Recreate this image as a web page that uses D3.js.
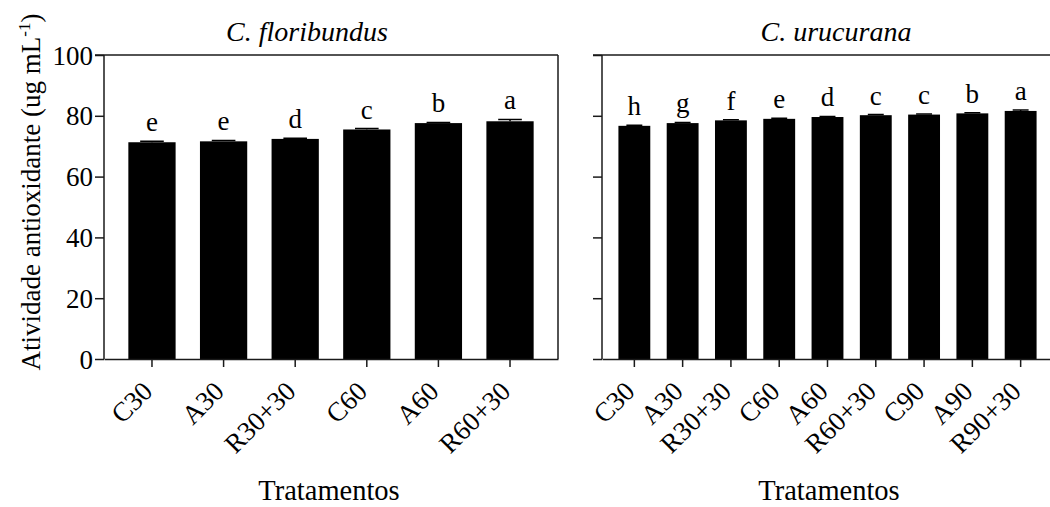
<!DOCTYPE html>
<html>
<head>
<meta charset="utf-8">
<script src="https://cdn.jsdelivr.net/npm/d3@7"></script>
<style>
  body { margin: 0; background: #fff; }
  text { font-family: "Liberation Serif", "Times New Roman", serif; fill: #000; }
</style>
</head>
<body>
<div id="chart"></div>
<script>
// size
var chart_width  = 1050;
var chart_height = 507;

// data
var flor_labels  = ["C30", "A30", "R30+30", "C60", "A60", "R60+30"];
var flor_values  = [71.3, 71.6, 72.4, 75.5, 77.6, 78.2];
var flor_errors  = [0.3, 0.3, 0.2, 0.3, 0.2, 0.6];
var flor_letters = ["e", "e", "d", "c", "b", "a"];

var uru_labels  = ["C30", "A30", "R30+30", "C60", "A60", "R60+30", "C90", "A90", "R90+30"];
var uru_values  = [76.7, 77.6, 78.5, 79.0, 79.6, 80.2, 80.4, 80.8, 81.6];
var uru_errors  = [0.2, 0.2, 0.2, 0.2, 0.2, 0.2, 0.2, 0.2, 0.3];
var uru_letters = ["h", "g", "f", "e", "d", "c", "c", "b", "a"];

var y_ticks = [0, 20, 40, 60, 80, 100];

var svg = d3.select("#chart")
    .append("svg")
    .attr("width", chart_width)
    .attr("height", chart_height);

var y = d3.scaleLinear()
    .domain([0, 100])
    .range([359, 55]);

var line_col = "#1a1a1a";

// one panel
function drawPanel(opt) {
    var x = d3.scaleBand()
        .domain(opt.labels)
        .range([opt.x0, opt.x1])
        .paddingInner(0.34)
        .paddingOuter(0.34);

    var g = svg.append("g");

    // bars
    g.selectAll("rect.bar")
        .data(opt.values)
        .enter()
        .append("rect")
        .attr("class", "bar")
        .attr("x", function(d, i){ return x(opt.labels[i]); })
        .attr("y", function(d){ return y(d); })
        .attr("width", x.bandwidth())
        .attr("height", function(d){ return y(0) - y(d); })
        .attr("fill", "#000");

    // error bars (up only)
    g.selectAll("path.err")
        .data(opt.values)
        .enter()
        .append("path")
        .attr("class", "err")
        .attr("d", function(d, i){
            var cx = x(opt.labels[i]) + x.bandwidth() / 2;
            var w = x.bandwidth() * 0.25;
            var top = y(d + opt.errors[i]);
            return "M" + cx + "," + y(d) + "V" + top + "M" + (cx - w) + "," + top + "H" + (cx + w);
        })
        .attr("stroke", "#000")
        .attr("stroke-width", 1.5)
        .attr("fill", "none");

    // letters
    g.selectAll("text.letter")
        .data(opt.letters)
        .enter()
        .append("text")
        .attr("class", "letter")
        .attr("x", function(d, i){ return x(opt.labels[i]) + x.bandwidth() / 2; })
        .attr("y", function(d, i){ return y(opt.values[i] + opt.errors[i]) - 10; })
        .attr("text-anchor", "middle")
        .style("font-size", "27px")
        .text(function(d){ return d; });

    // y axis
    var yAxis = d3.axisLeft(y).tickValues(y_ticks).tickSize(9)
        .tickFormat(opt.showY ? d3.format("d") : "");
    var ya = g.append("g")
        .attr("transform", "translate(" + opt.x0 + ",0)")
        .call(yAxis);
    ya.attr("font-family", null).attr("font-size", null);
    ya.select(".domain").attr("d", "M0," + y(0) + "V" + y(100));
    ya.selectAll("line").attr("stroke", line_col).attr("stroke-width", 1.5);
    ya.select(".domain").attr("stroke", line_col).attr("stroke-width", 1.5);
    ya.selectAll("text")
        .style("font-size", "27px")
        .attr("x", -11)
        .attr("dy", "0.34em");

    // x axis
    var xAxis = d3.axisBottom(x).tickSize(8).tickSizeOuter(0).tickFormat("");
    var xa = g.append("g")
        .attr("transform", "translate(0," + y(0) + ")")
        .call(xAxis);
    xa.select(".domain").attr("stroke", line_col).attr("stroke-width", 1.5);
    xa.selectAll("line").attr("stroke", line_col).attr("stroke-width", 1.5);

    // rotated tick labels
    g.selectAll("text.xlab")
        .data(opt.labels)
        .enter()
        .append("text")
        .attr("class", "xlab")
        .attr("text-anchor", "end")
        .attr("transform", function(d){
            var cx = x(d) + x.bandwidth() / 2;
            return "translate(" + (cx + 2) + ",393) rotate(-45)";
        })
        .style("font-size", "27px")
        .text(function(d){ return d; });

    // frame: top line, optional right line
    g.append("line")
        .attr("x1", opt.x0 - 9).attr("x2", opt.frameRight ? opt.x1 : chart_width)
        .attr("y1", y(100)).attr("y2", y(100))
        .attr("stroke", line_col).attr("stroke-width", 1.5);
    if (opt.frameRight) {
        g.append("line")
            .attr("x1", opt.x1).attr("x2", opt.x1)
            .attr("y1", y(100)).attr("y2", y(0))
            .attr("stroke", line_col).attr("stroke-width", 1.5);
    }

    // panel title
    g.append("text")
        .attr("x", opt.titleX)
        .attr("y", 41)
        .attr("text-anchor", "middle")
        .style("font-size", "28px")
        .style("font-style", "italic")
        .text(opt.title);

    // x title
    g.append("text")
        .attr("x", opt.xTitleX)
        .attr("y", 500)
        .attr("text-anchor", "middle")
        .style("font-size", "28.5px")
        .text("Tratamentos");
}

drawPanel({
    labels: flor_labels, values: flor_values, errors: flor_errors, letters: flor_letters,
    x0: 104, x1: 558, showY: true, frameRight: true,
    title: "C. floribundus", titleX: 307, xTitleX: 329
});

drawPanel({
    labels: uru_labels, values: uru_values, errors: uru_errors, letters: uru_letters,
    x0: 602, x1: 1053, showY: false, frameRight: false,
    title: "C. urucurana", titleX: 836, xTitleX: 829
});

// y axis title
var ylab = svg.append("text")
    .attr("transform", "translate(40,192) rotate(-90)")
    .attr("text-anchor", "middle")
    .style("font-size", "27px");
ylab.append("tspan").text("Atividade antioxidante (ug mL");
ylab.append("tspan").attr("dy", -10).style("font-size", "17px").text("-1");
ylab.append("tspan").attr("dy", 10).text(")");
</script>
</body>
</html>
